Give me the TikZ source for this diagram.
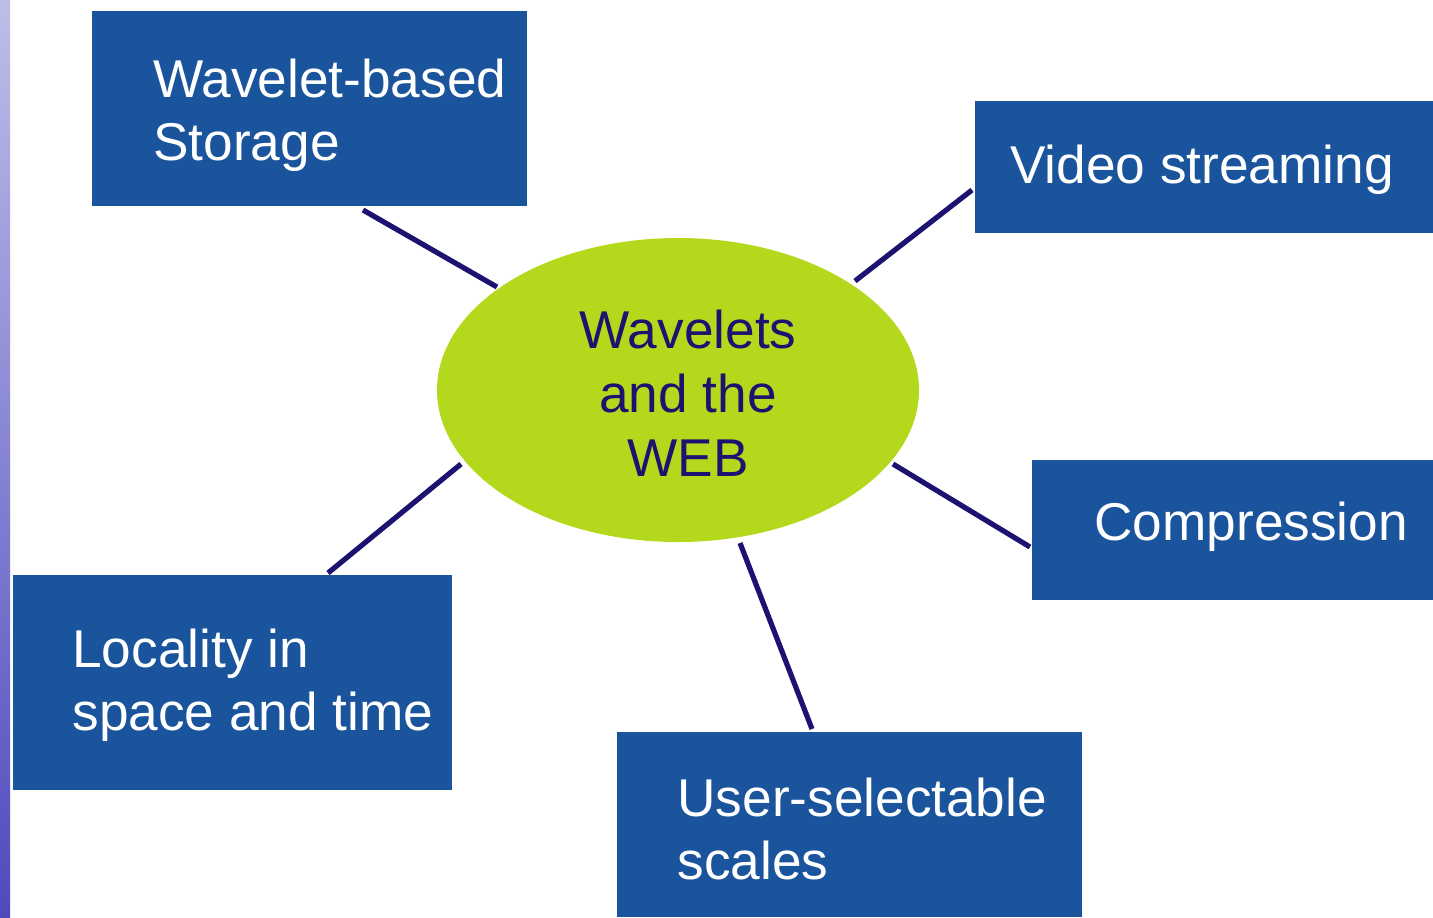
\documentclass[tikz,border=0pt]{standalone}
\usepackage{fontspec}
\setmainfont{Liberation Sans}
\definecolor{boxblue}{RGB}{26,84,156}
\definecolor{lime}{RGB}{180,216,27}
\definecolor{navy}{RGB}{28,18,112}
\definecolor{stripTop}{RGB}{190,190,232}
\definecolor{stripBot}{RGB}{78,74,190}
\tikzset{
  box/.style={draw=none, fill=boxblue, rectangle, inner sep=0pt},
  boxtext/.style={text=white, inner sep=0pt, anchor=west, align=left,
    font=\fontsize{26.6pt}{31.5pt}\selectfont},
  link/.style={draw=navy, line width=2.6pt},
}
\begin{document}
\begin{tikzpicture}[x=0.5pt, y=-0.5pt]
\useasboundingbox (0,0) rectangle (1433,917);
\fill[white] (0,0) rectangle (1433,917);
\shade[top color=stripTop, bottom color=stripBot] (0,0) rectangle (10,917);

% connectors
\coordinate (a1) at (363,210); \coordinate (a2) at (497,287);
\coordinate (b1) at (855,281); \coordinate (b2) at (972,190);
\coordinate (c1) at (893,464); \coordinate (c2) at (1030,547);
\coordinate (d1) at (740,543); \coordinate (d2) at (812,729);
\coordinate (e1) at (461,464); \coordinate (e2) at (328,573);
\draw[link] (a1) -- (a2);
\draw[link] (b1) -- (b2);
\draw[link] (c1) -- (c2);
\draw[link] (d1) -- (d2);
\draw[link] (e1) -- (e2);

% centre
\fill[lime] (678,390) ellipse [x radius=241, y radius=152];
\node (hub) [text=navy, inner sep=0pt, align=center,
  font=\fontsize{26.6pt}{32pt}\selectfont] at (688,393) {Wavelets\\and the\\WEB};

% boxes
\node (storagebox) [box, minimum width=217.5pt, minimum height=97.5pt] at (309.5,108.5) {};
\node (storage) [boxtext] at (153,115) {Wavelet-based\\Storage};

\node (videobox) [box, minimum width=229pt, minimum height=66pt] at (1204,167) {};
\node (video) [boxtext] at (1010,170) {Video streaming};

\node (compbox) [box, minimum width=200.5pt, minimum height=70pt] at (1232.5,530) {};
\node (comp) [boxtext] at (1094,527) {Compression};

\node (userbox) [box, minimum width=232.5pt, minimum height=92.5pt] at (849.5,824.5) {};
\node (user) [boxtext] at (677,829) {User-selectable\\scales};

\node (localbox) [box, minimum width=219.5pt, minimum height=107.5pt] at (232.5,682.5) {};
\node (local) [boxtext] at (72,685) {Locality in\\space and time};
\end{tikzpicture}
\end{document}
